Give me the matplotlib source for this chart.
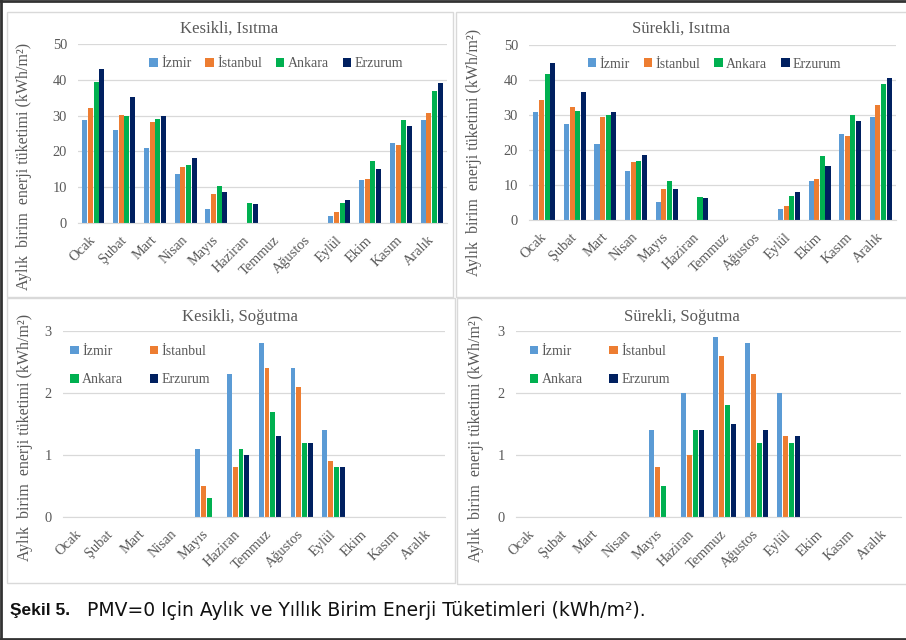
import matplotlib.pyplot as plt
from matplotlib.patches import Rectangle
from matplotlib.lines import Line2D

plt.rcParams['font.family'] = ['Liberation Serif', 'DejaVu Serif']

months = ['Ocak', 'Şubat', 'Mart', 'Nisan', 'Mayıs', 'Haziran',
          'Temmuz', 'Ağustos', 'Eylül', 'Ekim', 'Kasım', 'Aralık']
cities = ['İzmir', 'İstanbul', 'Ankara', 'Erzurum']

# Kesikli, Isıtma
kes_isitma_izmir = [28.9, 26.0, 20.9, 13.6, 3.8, 0, 0, 0, 2.0, 12.0, 22.3, 28.9]
kes_isitma_istanbul = [32.2, 30.2, 28.2, 15.6, 8.1, 0, 0, 0, 3.1, 12.3, 21.8, 30.8]
kes_isitma_ankara = [39.5, 30.0, 29.0, 16.3, 10.3, 5.6, 0, 0, 5.7, 17.3, 28.9, 36.9]
kes_isitma_erzurum = [43.0, 35.3, 29.8, 18.1, 8.6, 5.2, 0, 0, 6.5, 15.0, 27.1, 39.0]

# Sürekli, Isıtma
sur_isitma_izmir = [30.8, 27.4, 21.8, 14.0, 5.2, 0, 0, 0, 3.2, 11.1, 24.5, 29.5]
sur_isitma_istanbul = [34.4, 32.2, 29.5, 16.6, 9.0, 0, 0, 0, 3.9, 11.8, 24.0, 32.9]
sur_isitma_ankara = [41.7, 31.2, 29.9, 17.0, 11.1, 6.6, 0, 0, 6.8, 18.4, 30.1, 39.0]
sur_isitma_erzurum = [44.9, 36.7, 30.8, 18.6, 8.9, 6.4, 0, 0, 8.0, 15.5, 28.3, 40.6]

# Kesikli, Soğutma
kes_sogutma_izmir = [0, 0, 0, 0, 1.1, 2.3, 2.8, 2.4, 1.4, 0, 0, 0]
kes_sogutma_istanbul = [0, 0, 0, 0, 0.5, 0.8, 2.4, 2.1, 0.9, 0, 0, 0]
kes_sogutma_ankara = [0, 0, 0, 0, 0.3, 1.1, 1.7, 1.2, 0.8, 0, 0, 0]
kes_sogutma_erzurum = [0, 0, 0, 0, 0, 1.0, 1.3, 1.2, 0.8, 0, 0, 0]

# Sürekli, Soğutma
sur_sogutma_izmir = [0, 0, 0, 0, 1.4, 2.0, 2.9, 2.8, 2.0, 0, 0, 0]
sur_sogutma_istanbul = [0, 0, 0, 0, 0.8, 1.0, 2.6, 2.3, 1.3, 0, 0, 0]
sur_sogutma_ankara = [0, 0, 0, 0, 0.5, 1.4, 1.8, 1.2, 1.2, 0, 0, 0]
sur_sogutma_erzurum = [0, 0, 0, 0, 0, 1.4, 1.5, 1.4, 1.3, 0, 0, 0]

COLORS = ['#5B9BD5', '#ED7D31', '#00B050', '#002060']
TEXT = '#595959'
GRID = '#D9D9D9'
YLABEL = 'Aylık  birim  enerji tüketimi (kWh/m²)'


def draw_panel(fig, rect, series, title, title_xy, ylabel_xy, ymax, ystep,
               legend_kw, bar_w, order=(0, 1, 2, 3)):
    ax = fig.add_axes(rect)
    step = 0.184
    bars = []
    for i, (vals, city) in enumerate(zip(series, cities)):
        xs = [m + (i - 1.5) * step for m in range(len(months))]
        bars.append(ax.bar(xs, vals, width=bar_w, color=COLORS[i], label=city, zorder=2))

    ax.set_xlim(-0.5, len(months) - 0.5)
    ax.set_ylim(0, ymax)
    ax.set_yticks(range(0, ymax + 1, ystep))
    ax.set_xticks(range(len(months)))
    ax.set_xticklabels(months, rotation=45, ha='right', va='center',
                       rotation_mode='anchor', fontsize=10.4, color=TEXT)
    ax.tick_params(axis='y', length=0, pad=8, labelsize=10.4, labelcolor=TEXT)
    ax.tick_params(axis='x', length=0, pad=11)
    ax.grid(axis='y', color=GRID, linewidth=0.9, zorder=0)
    for side in ['top', 'right', 'left']:
        ax.spines[side].set_visible(False)
    ax.spines['bottom'].set_color(GRID)
    ax.patch.set_alpha(0)

    ax.legend([bars[k] for k in order], [cities[k] for k in order],
              frameon=False, fontsize=10, handlelength=0.6, handleheight=0.6,
              handletextpad=0.25, labelcolor=TEXT, borderaxespad=0, **legend_kw)

    fig.text(title_xy[0] / 906, 1 - title_xy[1] / 640, title, fontsize=12,
             color=TEXT, ha='center', va='center')
    fig.text(ylabel_xy[0] / 906, 1 - ylabel_xy[1] / 640, YLABEL, fontsize=11.5,
             color=TEXT, ha='center', va='center', rotation=90)
    return ax


def px_rect(x0, y0, x1, y1):
    return [x0 / 906, 1 - y1 / 640, (x1 - x0) / 906, (y1 - y0) / 640]


fig = plt.figure(figsize=(9.06, 6.4), dpi=100)

# panel frames
for x0, y0, x1, y1 in [(7, 12, 453, 297), (456, 12, 912, 297),
                       (7, 298, 455, 583), (457, 298, 912, 584)]:
    r = px_rect(x0, y0, x1, y1)
    fig.patches.append(Rectangle((r[0], r[1]), r[2], r[3], transform=fig.transFigure,
                                 fill=False, edgecolor=GRID, linewidth=1))

# outer border: top, left and bottom only
for xs, ys in [([0, 1], [0.998, 0.998]), ([0.0015, 0.0015], [0, 1]), ([0, 1], [0.002, 0.002])]:
    fig.add_artist(Line2D(xs, ys, transform=fig.transFigure, color='#333333', linewidth=2))

top_legend = dict(loc='center', ncol=4, columnspacing=1.0)
bottom_legend = dict(loc='upper left', ncol=2, columnspacing=1.9, labelspacing=1.1)
bottom_order = (0, 2, 1, 3)

draw_panel(fig, px_rect(78, 44, 447, 223),
           [kes_isitma_izmir, kes_isitma_istanbul, kes_isitma_ankara, kes_isitma_erzurum],
           'Kesikli, Isıtma', (229, 29), (24, 166), 50, 10,
           dict(bbox_to_anchor=(0.537, 0.89), **top_legend), 0.165)
draw_panel(fig, px_rect(529, 45, 896, 220),
           [sur_isitma_izmir, sur_isitma_istanbul, sur_isitma_ankara, sur_isitma_erzurum],
           'Sürekli, Isıtma', (681, 29), (474, 152), 50, 10,
           dict(bbox_to_anchor=(0.506, 0.89), **top_legend), 0.165)
draw_panel(fig, px_rect(63, 331, 445, 517),
           [kes_sogutma_izmir, kes_sogutma_istanbul, kes_sogutma_ankara, kes_sogutma_erzurum],
           'Kesikli, Soğutma', (240, 317), (25, 437), 3, 1,
           dict(bbox_to_anchor=(0.005, 0.955), **bottom_legend), 0.15, bottom_order)
draw_panel(fig, px_rect(516, 331, 901, 517),
           [sur_sogutma_izmir, sur_sogutma_istanbul, sur_sogutma_ankara, sur_sogutma_erzurum],
           'Sürekli, Soğutma', (682, 317), (476, 438), 3, 1,
           dict(bbox_to_anchor=(0.022, 0.955), **bottom_legend), 0.15, bottom_order)

# caption
cap_y = 1 - 610 / 640
fig.text(10 / 906, cap_y, 'Şekil 5.', fontsize=12.5, fontweight='bold',
         family='Liberation Sans', ha='left', va='center', color='#111111')
fig.text(87 / 906, cap_y, 'PMV=0 Için Aylık ve Yıllık Birim Enerji Tüketimleri (kWh/m²).',
         fontsize=13.5, family='DejaVu Sans', ha='left', va='center', color='#111111')

fig.savefig('out.png', dpi=100)
